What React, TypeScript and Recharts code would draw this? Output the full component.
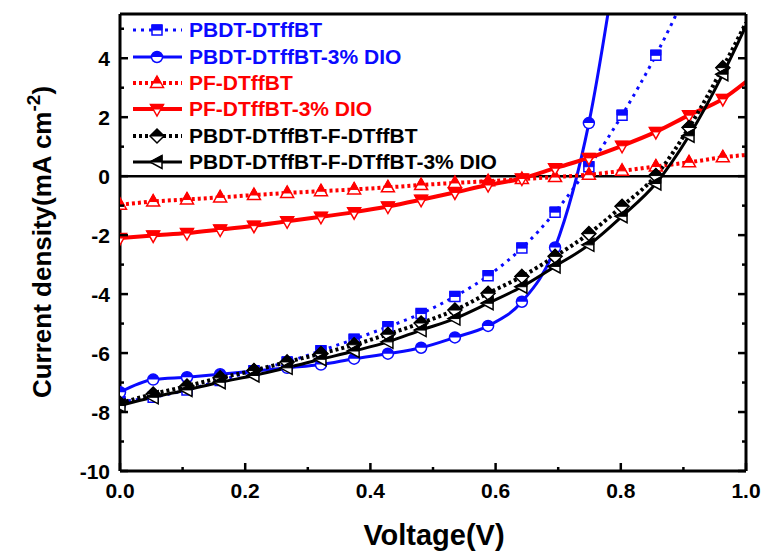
import React from "react";
import {
    LineChart,
    Line,
    XAxis,
    YAxis,
    ReferenceLine,
    Label,
} from "recharts";

// voltage grid (V) shared by all curves; last entry is the 1.0 V endpoint
const voltage = [0, 0.053, 0.107, 0.16, 0.214, 0.267, 0.321, 0.374, 0.428, 0.481, 0.535, 0.588, 0.642, 0.695, 0.749, 0.802, 0.856, 0.909, 0.963, 1.0];

// current density (mA cm-2)
const pbdt = [-7.65, -7.5, -7.25, -6.93, -6.6, -6.3, -5.92, -5.53, -5.11, -4.66, -4.08, -3.38, -2.44, -1.22, 0.32, 2.07, 4.1, 6.4];
const pbdtDio = [-7.33, -6.9, -6.82, -6.72, -6.61, -6.5, -6.39, -6.19, -6.02, -5.82, -5.47, -5.08, -4.26, -2.42, 1.8, 8.6];
const pf = [-0.97, -0.86, -0.79, -0.72, -0.64, -0.57, -0.51, -0.45, -0.38, -0.3, -0.23, -0.17, -0.1, -0.03, 0.05, 0.18, 0.33, 0.47, 0.64, 0.72];
const pfDio = [-2.1, -2.01, -1.93, -1.81, -1.68, -1.53, -1.38, -1.22, -1.03, -0.8, -0.55, -0.3, -0.08, 0.27, 0.62, 1.03, 1.5, 2.07, 2.62, 3.2];
const blend = [-7.7, -7.39, -7.12, -6.84, -6.59, -6.3, -6.02, -5.72, -5.36, -4.98, -4.54, -3.97, -3.4, -2.72, -1.95, -1.02, 0.02, 1.65, 3.68, 5.2];
const blendDio = [-7.78, -7.5, -7.25, -6.99, -6.76, -6.5, -6.21, -5.93, -5.62, -5.22, -4.83, -4.31, -3.75, -3.06, -2.33, -1.36, -0.25, 1.37, 3.46, 5.1];

const xTicks = [0, 0.1, 0.2, 0.3, 0.4, 0.5, 0.6, 0.7, 0.8, 0.9, 1.0];
const yTicks = [-10, -9, -8, -7, -6, -5, -4, -3, -2, -1, 0, 1, 2, 3, 4, 5];

const Y_MIN = -10;
const Y_MAX = 5.5;
const BLUE = "#0a0aff";
const RED = "#ff0000";
const BLACK = "#000000";
const FONT = "'Liberation Sans', Arial, sans-serif";

const toPoints = (vals: number[]) => vals.map((j, i) => ({ v: voltage[i], j }));

type Pt = [number, number];

const shapes: Record<string, Pt[]> = {
    square: [[-5, -5], [5, -5], [5, 5], [-5, 5]],
    up: [[0, -7], [6.5, 4.5], [-6.5, 4.5]],
    down: [[-6.5, -4.5], [6.5, -4.5], [0, 7]],
    diamond: [[0, -7], [7, 0], [0, 7], [-7, 0]],
    left: [[-7, 0], [5, -6.5], [5, 6.5]],
};

// keep the part of a polygon above its centre line (y <= 0)
function topHalf(pts: Pt[]): Pt[] {
    const out: Pt[] = [];
    for (let i = 0; i < pts.length; i++) {
        const a = pts[i];
        const b = pts[(i + 1) % pts.length];
        const aIn = a[1] <= 0;
        const bIn = b[1] <= 0;
        if (aIn) out.push(a);
        if (aIn !== bIn) {
            const t = a[1] / (a[1] - b[1]);
            out.push([a[0] + t * (b[0] - a[0]), 0]);
        }
    }
    return out;
}

const toStr = (pts: Pt[], cx: number, cy: number) =>
    pts.map((p) => `${cx + p[0]},${cy + p[1]}`).join(" ");

function Marker({ shape, color, cx, cy }: { shape: string; color: string; cx: number; cy: number }) {
    if (shape === "circle") {
        const r = 5.5;
        return (
            <g>
                <circle cx={cx} cy={cy} r={r} fill="#fff" stroke={color} strokeWidth={1.5} />
                <path d={`M ${cx - r} ${cy} A ${r} ${r} 0 0 1 ${cx + r} ${cy} Z`} fill={color} />
            </g>
        );
    }
    const pts = shapes[shape];
    return (
        <g>
            <polygon points={toStr(pts, cx, cy)} fill="#fff" stroke={color} strokeWidth={1.5} />
            <polygon points={toStr(topHalf(pts), cx, cy)} fill={color} stroke={color} strokeWidth={1} />
        </g>
    );
}

const makeDot = (shape: string, color: string) => (props: any) => {
    const { cx, cy, payload, index } = props;
    if (cx == null || cy == null || payload.v >= 1 || payload.j > Y_MAX) {
        return <g key={`d-${shape}-${index}`} />;
    }
    return (
        <g key={`d-${shape}-${index}`}>
            <Marker shape={shape} color={color} cx={cx} cy={cy} />
        </g>
    );
};

const series = [
    { name: "PBDT-DTffBT", data: pbdt, color: BLUE, shape: "square", dash: "3 5", width: 3 },
    { name: "PBDT-DTffBT-3% DIO", data: pbdtDio, color: BLUE, shape: "circle", dash: undefined, width: 3 },
    { name: "PF-DTffBT", data: pf, color: RED, shape: "up", dash: "3 3", width: 4 },
    { name: "PF-DTffBT-3% DIO", data: pfDio, color: RED, shape: "down", dash: undefined, width: 4 },
    { name: "PBDT-DTffBT-F-DTffBT", data: blend, color: BLACK, shape: "diamond", dash: "3 3", width: 4 },
    { name: "PBDT-DTffBT-F-DTffBT-3% DIO", data: blendDio, color: BLACK, shape: "left", dash: undefined, width: 3 },
];

const isMajorX = (v: number) => Math.round(v * 10) % 2 === 0;

const BottomTick = (props: any) => {
    const { x, y, payload } = props;
    const v = payload.value;
    const major = isMajorX(v);
    return (
        <g>
            <line x1={x} y1={y} x2={x} y2={y - (major ? 8 : 4)} stroke="#000" strokeWidth={2.5} />
            {major && (
                <text x={x} y={y + 27} textAnchor="middle" fontSize={21} fontWeight="bold" fontFamily={FONT} fill="#000">
                    {v.toFixed(1)}
                </text>
            )}
        </g>
    );
};

const TopTick = (props: any) => {
    const { x, y, payload } = props;
    const major = isMajorX(payload.value);
    return <line x1={x} y1={y} x2={x} y2={y + (major ? 8 : 4)} stroke="#000" strokeWidth={2.5} />;
};

const LeftTick = (props: any) => {
    const { x, y, payload } = props;
    const v = payload.value;
    const major = v % 2 === 0;
    return (
        <g>
            <line x1={x} y1={y} x2={x + (major ? 8 : 4)} y2={y} stroke="#000" strokeWidth={2.5} />
            {major && (
                <text x={x - 10} y={y + 7.5} textAnchor="end" fontSize={21} fontWeight="bold" fontFamily={FONT} fill="#000">
                    {v}
                </text>
            )}
        </g>
    );
};

const RightTick = (props: any) => {
    const { x, y, payload } = props;
    const major = payload.value % 2 === 0;
    return <line x1={x} y1={y} x2={x - (major ? 8 : 4)} y2={y} stroke="#000" strokeWidth={2.5} />;
};

const YTitle = () => (
    <text
        transform="translate(51,242) rotate(-90)"
        textAnchor="middle"
        fontSize={26}
        fontWeight="bold"
        fontFamily={FONT}
        fill="#000"
    >
        Current density(mA cm
        <tspan dy={-11} fontSize={19}>-2</tspan>
        <tspan dy={11}>)</tspan>
    </text>
);

const XTitle = () => (
    <text x={434} y={545} textAnchor="middle" fontSize={29} fontWeight="bold" fontFamily={FONT} fill="#000">
        Voltage(V)
    </text>
);

const LegendBox = () => (
    <div
        style={{
            position: "absolute",
            left: 130,
            top: 17,
            fontFamily: FONT,
            fontWeight: "bold",
            fontSize: 21,
        }}
    >
        {series.map((s) => (
            <div key={s.name} style={{ display: "flex", alignItems: "center", height: 26.4 }}>
                <svg width={56} height={26} style={{ display: "block" }}>
                    <line
                        x1={3}
                        y1={13}
                        x2={52}
                        y2={13}
                        stroke={s.color}
                        strokeWidth={s.width}
                        strokeDasharray={s.dash}
                    />
                    <Marker shape={s.shape} color={s.color} cx={27} cy={13} />
                </svg>
                <span style={{ color: s.color, marginLeft: 3, whiteSpace: "nowrap", lineHeight: "26px" }}>{s.name}</span>
            </div>
        ))}
    </div>
);

export default function App() {
    return (
        <div style={{ position: "absolute", left: 0, top: 0, width: 767, height: 554, background: "#fff" }}>
            <LineChart
                width={767}
                height={554}
                margin={{ top: 13, right: 20, bottom: 82, left: 119 }}
            >
                <XAxis
                    dataKey="v"
                    type="number"
                    domain={[0, 1]}
                    ticks={xTicks}
                    interval={0}
                    height={1}
                    tickSize={0}
                    tickMargin={0}
                    tickLine={false}
                    tick={BottomTick}
                    axisLine={{ stroke: "#000", strokeWidth: 3 }}
                    allowDataOverflow
                >
                    <Label content={XTitle} />
                </XAxis>
                <XAxis
                    xAxisId="top"
                    orientation="top"
                    type="number"
                    domain={[0, 1]}
                    ticks={xTicks}
                    interval={0}
                    height={1}
                    tickSize={0}
                    tickMargin={0}
                    tickLine={false}
                    tick={TopTick}
                    axisLine={{ stroke: "#000", strokeWidth: 3 }}
                    allowDataOverflow
                />
                <YAxis
                    type="number"
                    domain={[Y_MIN, Y_MAX]}
                    ticks={yTicks}
                    interval={0}
                    width={1}
                    tickSize={0}
                    tickMargin={0}
                    tickLine={false}
                    tick={LeftTick}
                    axisLine={{ stroke: "#000", strokeWidth: 3 }}
                    allowDataOverflow
                >
                    <Label content={YTitle} />
                </YAxis>
                <YAxis
                    yAxisId="right"
                    orientation="right"
                    type="number"
                    domain={[Y_MIN, Y_MAX]}
                    ticks={yTicks}
                    interval={0}
                    width={1}
                    tickSize={0}
                    tickMargin={0}
                    tickLine={false}
                    tick={RightTick}
                    axisLine={{ stroke: "#000", strokeWidth: 3 }}
                    allowDataOverflow
                />
                <ReferenceLine y={0} stroke="#000" strokeWidth={2.5} />
                {series.map((s) => (
                    <Line
                        key={s.name}
                        name={s.name}
                        data={toPoints(s.data)}
                        dataKey="j"
                        type="monotone"
                        stroke={s.color}
                        strokeWidth={s.width}
                        strokeDasharray={s.dash}
                        dot={makeDot(s.shape, s.color)}
                        activeDot={false}
                        isAnimationActive={false}
                    />
                ))}
            </LineChart>
            <LegendBox />
        </div>
    );
}
